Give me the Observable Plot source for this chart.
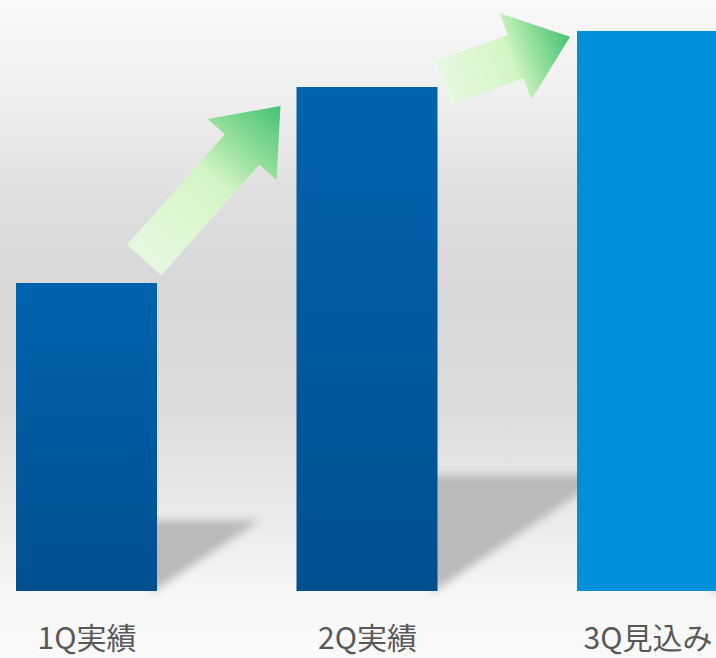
<!DOCTYPE html>
<html>
<head>
<meta charset="utf-8">
<script src="https://cdn.jsdelivr.net/npm/d3@7"></script>
<script src="https://cdn.jsdelivr.net/npm/@observablehq/plot@0.6"></script>
<style>
  html, body { margin: 0; padding: 0; background: #fafafa; overflow: hidden; }
  #chart svg { display: block; }
</style>
</head>
<body>
<div id="chart"></div>
<script>
// ---- data ----
const categories = ["1Q実績", "2Q実績", "3Q見込み"];
const values = [55, 90, 100];
const kinds = ["actual", "actual", "forecast"];

const data = categories.map((c, i) => ({category: c, value: values[i], kind: kinds[i]}));

// ---- style config (decoration geometry, relative to bars) ----
const arrowStyle = [
  {from: 0, to: 1, tailOff: [-12.8, -23], tipOff: [-16, 19]},
  {from: 1, to: 2, tailOff: [6.3, -4.3], tipOff: [-7, 5.7]}
];
const shadowHeightRatio = 0.23;
const shadowWidthRatio = 0.335;

const W = 716, H = 658;

function bandwidthOf(x) {
  return typeof x.bandwidth === "function" ? x.bandwidth() : x.bandwidth;
}

// defs mark: gradients + blur filter
const defsMark = (index, scales) => {
  const g = d3.create("svg:g");
  const defs = g.append("defs");
  const bar = defs.append("linearGradient").attr("id", "barGrad")
    .attr("x1", 0).attr("y1", 0).attr("x2", 0).attr("y2", 1);
  bar.append("stop").attr("offset", "0%").attr("stop-color", "#0063ae");
  bar.append("stop").attr("offset", "100%").attr("stop-color", "#00508f");
  const f = defs.append("filter").attr("id", "shadowBlur")
    .attr("x", "-30%").attr("y", "-30%").attr("width", "160%").attr("height", "160%");
  f.append("feGaussianBlur").attr("stdDeviation", 4);
  return g.node();
};

// shadow mark: blurred triangles cast to the right of each bar
const shadowMark = (index, scales) => {
  const x = scales.x, y = scales.y, bw = bandwidthOf(x);
  const g = d3.create("svg:g");
  const y0 = y(0);
  data.forEach(d => {
    const xr = x(d.category) + bw;
    const h = y0 - y(d.value);
    const top = y0 - h * shadowHeightRatio;
    const w = h * shadowWidthRatio;
    const pts = [[xr - 6, top], [xr + w, top], [xr - 6, y0 + 2]];
    g.append("polygon")
      .attr("points", pts.map(p => p.join(",")).join(" "))
      .attr("fill", "#b9b9b9")
      .attr("filter", "url(#shadowBlur)");
  });
  return g.node();
};

// arrow mark
function arrowPoints([x0, y0], [x1, y1], bw = 23, hw = 46, hl = 58) {
  const dx = x1 - x0, dy = y1 - y0, L = Math.hypot(dx, dy);
  const ux = dx / L, uy = dy / L, px = -uy, py = ux;
  const bx = x1 - ux * hl, by = y1 - uy * hl;
  return [
    [x0 + px * bw, y0 + py * bw], [bx + px * bw, by + py * bw], [bx + px * hw, by + py * hw],
    [x1, y1],
    [bx - px * hw, by - py * hw], [bx - px * bw, by - py * bw], [x0 - px * bw, y0 - py * bw]
  ];
}
const arrowMark = (index, scales) => {
  const x = scales.x, y = scales.y, bw = bandwidthOf(x);
  const g = d3.create("svg:g");
  const defs = g.append("defs");
  arrowStyle.forEach((a, i) => {
    const A = data[a.from], B = data[a.to];
    const tail = [x(A.category) + bw + a.tailOff[0], y(A.value) + a.tailOff[1]];
    const tip = [x(B.category) + a.tipOff[0], y(B.value) + a.tipOff[1]];
    const id = "arrowGrad" + i;
    const lg = defs.append("linearGradient").attr("id", id)
      .attr("gradientUnits", "userSpaceOnUse")
      .attr("x1", tail[0]).attr("y1", tail[1]).attr("x2", tip[0]).attr("y2", tip[1]);
    lg.append("stop").attr("offset", "0%").attr("stop-color", "#e6f8df");
    lg.append("stop").attr("offset", "52%").attr("stop-color", "#d4f5c5");
    lg.append("stop").attr("offset", "72%").attr("stop-color", "#95e09c");
    lg.append("stop").attr("offset", "100%").attr("stop-color", "#45c273");
    g.append("polygon")
      .attr("points", arrowPoints(tail, tip).map(p => p.join(",")).join(" "))
      .attr("fill", `url(#${id})`);
  });
  return g.node();
};

const chart = Plot.plot({
  width: W,
  height: H,
  marginTop: 0, marginRight: 0, marginBottom: 0, marginLeft: 0,
  style: {
    background: "linear-gradient(to bottom, #f9f9f9 0%, #eeeeee 16%, #dddddd 32%, #d8d8d8 45%, #dcdcdc 62%, #e9e9e9 77%, #f6f6f6 90%, #fafafa 100%)",
    fontFamily: "'Noto Sans CJK JP', 'Noto Sans', sans-serif",
    overflow: "hidden"
  },
  x: {type: "band", domain: categories, range: [16, 718], paddingInner: 0.49733, paddingOuter: 0, round: false, axis: null},
  y: {domain: [0, 100], range: [591, 31], axis: null},
  marks: [
    defsMark,
    shadowMark,
    Plot.barY(data.filter(d => d.kind === "actual"), {x: "category", y: "value", fill: "url(#barGrad)"}),
    Plot.barY(data.filter(d => d.kind === "forecast"), {x: "category", y: "value", fill: "#008fd9"}),
    arrowMark,
    Plot.text(data, {x: "category", text: "category", frameAnchor: "bottom", dy: -10,
      fontSize: 30, fill: "#595959", textAnchor: "middle"})
  ]
});
document.getElementById("chart").appendChild(chart);
</script>
</body>
</html>
